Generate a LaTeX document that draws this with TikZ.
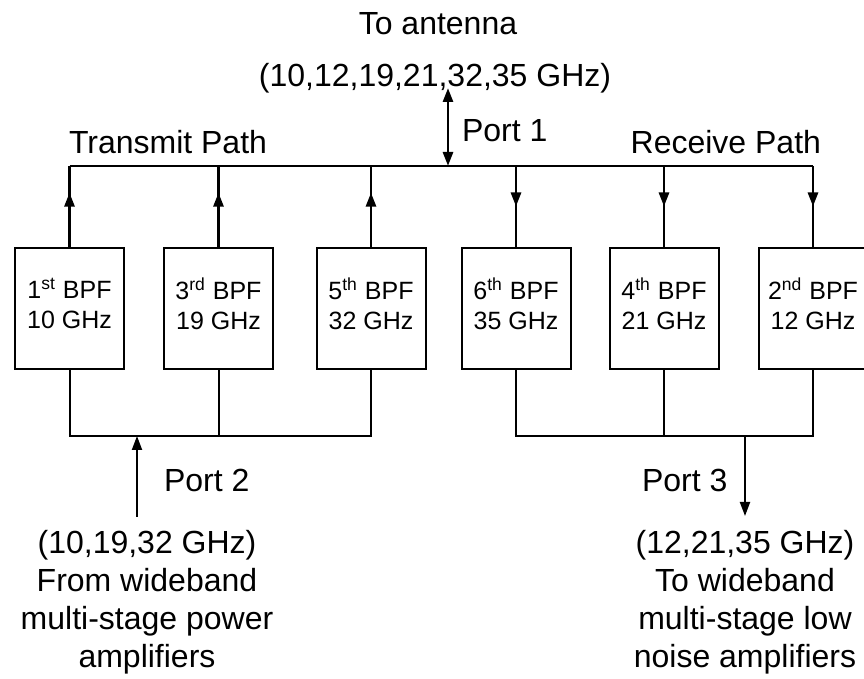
\documentclass[tikz,border=0pt]{standalone}
\usepackage{fontspec}
\setmainfont{Liberation Sans}
\usetikzlibrary{arrows.meta,decorations.markings}
\begin{document}
\begin{tikzpicture}[x=0.5pt,y=-0.5pt,line width=1pt,
  >={Triangle[length=7pt,width=5pt]},
  bpf/.style={draw,minimum width=54.5pt,minimum height=60.5pt,inner sep=0pt,
    align=center,text depth=5pt,font=\fontsize{12.5}{15}\selectfont},
  lbl/.style={inner sep=0pt,font=\fontsize{16}{19}\selectfont},
  block/.style={lbl,align=center,anchor=north},
  midtip/.style={postaction={decorate},decoration={markings,
    mark=at position #1 with {\arrow{>}}}}]
  \useasboundingbox (0,0) rectangle (864,679);

  % filters
  \node[bpf] (bpf1) at (69.5,308.5) {1\textsuperscript{st} BPF\\10 GHz};
  \node[bpf] (bpf3) at (218.5,308.5) {3\textsuperscript{rd} BPF\\19 GHz};
  \node[bpf] (bpf5) at (371,308.5) {5\textsuperscript{th} BPF\\32 GHz};
  \node[bpf] (bpf6) at (516,308.5) {6\textsuperscript{th} BPF\\35 GHz};
  \node[bpf] (bpf4) at (664,308.5) {4\textsuperscript{th} BPF\\21 GHz};
  \node[bpf] (bpf2) at (813,308.5) {2\textsuperscript{nd} BPF\\12 GHz};

  % common bus to the antenna
  \coordinate (bus) at (448,166);
  \coordinate (ant) at (448,88);
  \draw[line width=1.4pt] (bpf1.north |- bus) -- (bpf2.north |- bus);
  \draw[line width=1.4pt,<->] (ant) -- (bus);
  \foreach \f in {bpf1,bpf3,bpf5}
    \draw[line width=1.4pt,midtip=0.67] (\f.north) -- (\f.north |- bus);
  \foreach \f in {bpf6,bpf4,bpf2}
    \draw[line width=1.4pt,midtip=0.5] (\f.north |- bus) -- (\f.north);

  % ports 2 and 3
  \coordinate (txbus) at (137,436);
  \coordinate (rxbus) at (745,436);
  \coordinate (p2) at (137,517);
  \coordinate (p3) at (745,516);
  \draw (bpf1.south) |- (bpf5.south |- txbus) -- (bpf5.south);
  \draw (bpf3.south) -- (bpf3.south |- txbus);
  \draw (bpf6.south) |- (bpf2.south |- rxbus) -- (bpf2.south);
  \draw (bpf4.south) -- (bpf4.south |- rxbus);
  \draw[->] (p2) -- (txbus);
  \draw[->] (rxbus) -- (p3);

  % labels
  \node[lbl,anchor=base] (antenna) at (438,35) {To antenna};
  \node[lbl,anchor=base] (bands) at (435,87) {(10,12,19,21,32,35 GHz)};
  \node[lbl,anchor=base west] (port1) at (461,142) {Port 1};
  \node[lbl,anchor=base west] (tx) at (68,154) {Transmit Path};
  \node[lbl,anchor=base east] (rx) at (822,154) {Receive Path};
  \node[lbl,anchor=base west] (port2) at (163,492) {Port 2};
  \node[lbl,anchor=base west] (port3) at (641,492) {Port 3};
  \node[block] (pa) at (147,529)
    {(10,19,32 GHz)\\From wideband\\multi-stage power\\amplifiers};
  \node[block] (lna) at (745,529)
    {(12,21,35 GHz)\\To wideband\\multi-stage low\\noise amplifiers};
\end{tikzpicture}
\end{document}
